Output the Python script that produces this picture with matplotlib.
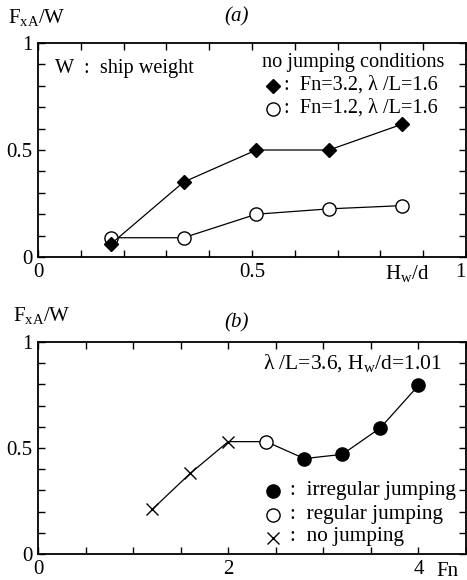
import matplotlib
matplotlib.use("Agg")
import matplotlib.pyplot as plt
import numpy as np

plt.rcParams['font.family'] = ['Liberation Serif', 'DejaVu Serif']
plt.rcParams['mathtext.fontset'] = 'custom'
plt.rcParams['mathtext.rm'] = 'Liberation Serif'
plt.rcParams['mathtext.it'] = 'Liberation Serif:italic'

# Panel (a) data
hw_d = [0.17, 0.34, 0.51, 0.68, 0.85]
fx_fn32 = [0.06, 0.35, 0.50, 0.50, 0.62]
fx_fn12 = [0.09, 0.09, 0.20, 0.225, 0.24]

# Panel (b) data
fn_none = [1.2, 1.6, 2.0]
fx_none = [0.21, 0.38, 0.53]
fn_reg = [2.4]
fx_reg = [0.53]
fn_irr = [2.8, 3.2, 3.6, 4.0]
fx_irr = [0.45, 0.47, 0.595, 0.795]

W, H = 467, 580
fig = plt.figure(figsize=(W/100, H/100), dpi=100)

def px_axes(l, t, r, b):
    return fig.add_axes([l/W, 1-b/H, (r-l)/W, (b-t)/H])

FS = 15
TS = 14.6

def style(ax):
    for s in ax.spines.values():
        s.set_linewidth(1.3)
    ax.tick_params(direction='in', which='both', top=True, right=True,
                   labelsize=FS, width=1.0, pad=4)
    ax.tick_params(which='major', length=5)
    ax.tick_params(which='minor', length=5)

# ---------- (a)
ax1 = px_axes(38, 43, 466, 257)
ax1.plot(hw_d, fx_fn12, '-', color='black', lw=0.9, marker='o', ms=9.5,
         mfc='white', mec='black', mew=1.0, zorder=3)
ax1.plot(hw_d, fx_fn32, '-', color='black', lw=0.9, marker='D', ms=7,
         mfc='black', mec='black', zorder=4)
ax1.set_xlim(0, 1)
ax1.set_ylim(0, 1)
ax1.set_xticks([0, 0.5, 1])
ax1.set_xticklabels(['0', '0.5', '1'])
ax1.set_xticks(np.arange(0, 1.01, 0.1), minor=True)
ax1.set_yticks([0, 0.5, 1])
ax1.set_yticklabels(['0', '0.5', '1'])
ax1.set_yticks(np.arange(0, 1.01, 0.1), minor=True)
style(ax1)
ax1.get_xticklabels()[-1].set_ha('right')
fig.text(8/W, 1-18/H, r'F$_{\rm xA}$/W', fontsize=FS, va='center', ha='left')
fig.text(237/W, 1-17/H, '(a)', fontsize=FS, style='italic', va='center', ha='center')
fig.text(407/W, 1-273/H, r'H$_{\rm w}$/d', fontsize=FS, va='center', ha='center')
fig.text(55/W, 1-69/H, 'W  :  ship weight', fontsize=TS, va='center', ha='left')
fig.text(262/W, 1-62/H, 'no jumping conditions', fontsize=TS, va='center', ha='left')
fig.text(284/W, 1-85/H, ':  Fn=3.2, λ /L=1.6', fontsize=TS, va='center', ha='left')
fig.text(284/W, 1-108/H, ':  Fn=1.2, λ /L=1.6', fontsize=TS, va='center', ha='left')
ax1.plot([273/W], [1-86/H], marker='D', ms=7, color='black', transform=fig.transFigure, clip_on=False)
ax1.plot([273/W], [1-109/H], marker='o', ms=9.5, mfc='white', mec='black', transform=fig.transFigure, clip_on=False)

# ---------- (b)
ax2 = px_axes(38, 342, 466, 554)
fn_all = fn_none + fn_reg + fn_irr
fx_all = fx_none + fx_reg + fx_irr
ax2.plot(fn_all, fx_all, '-', color='black', lw=0.9, zorder=2)
ax2.plot(fn_none, fx_none, 'x', color='black', ms=8, mew=1.0, zorder=3)
ax2.plot(fn_reg, fx_reg, 'o', ms=9.5, mfc='white', mec='black', mew=1.0, zorder=3)
ax2.plot(fn_irr, fx_irr, 'o', ms=9.5, mfc='black', mec='black', zorder=3)
ax2.set_xlim(0, 4.5)
ax2.set_ylim(0, 1)
ax2.set_xticks([0, 2, 4])
ax2.set_xticklabels(['0', '2', '4'])
ax2.set_xticks(np.arange(0, 4.51, 0.5), minor=True)
ax2.set_yticks([0, 0.5, 1])
ax2.set_yticklabels(['0', '0.5', '1'])
ax2.set_yticks(np.arange(0, 1.01, 0.1), minor=True)
style(ax2)
fig.text(13/W, 1-315/H, r'F$_{\rm xA}$/W', fontsize=FS, va='center', ha='left')
fig.text(237/W, 1-323/H, '(b)', fontsize=FS, style='italic', va='center', ha='center')
fig.text(447/W, 1-572/H, 'Fn', fontsize=FS, va='center', ha='center')
fig.text(263/W, 1-363/H, r'λ /L=3.6, H$_{\rm w}$/d=1.01', fontsize=15.5, va='center', ha='left')
fig.text(290/W, 1-490/H, ':  irregular jumping', fontsize=15.3, va='center', ha='left')
fig.text(290/W, 1-514/H, ':  regular jumping', fontsize=15.3, va='center', ha='left')
fig.text(290/W, 1-537/H, ':  no jumping', fontsize=15.3, va='center', ha='left')
ax2.plot([273/W], [1-491/H], marker='o', ms=9.5, color='black', transform=fig.transFigure, clip_on=False)
ax2.plot([273/W], [1-515/H], marker='o', ms=9.5, mfc='white', mec='black', transform=fig.transFigure, clip_on=False)
ax2.plot([273/W], [1-538/H], marker='x', ms=8, mew=1.0, color='black', transform=fig.transFigure, clip_on=False)

fig.savefig('out.png', dpi=100)
